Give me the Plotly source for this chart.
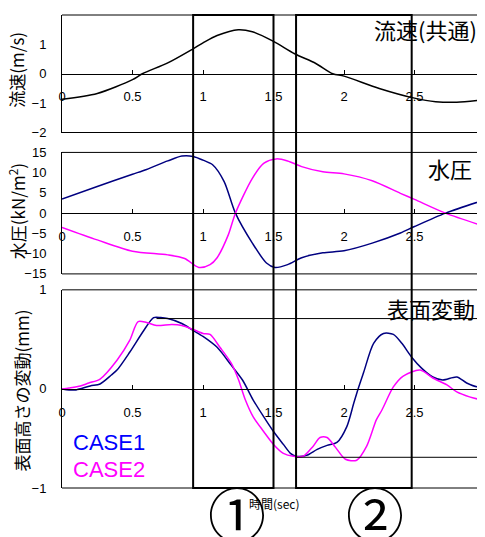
import plotly.graph_objects as go

# page body has an 8px default margin; figure is sized so the plot lands at the target pixels
OFF = 8
W, H = 485 - OFF, 537 - OFF
ML, MR, MT = 62 - OFF, 0, 13 - OFF
MB = H - (488 - OFF)

# ---------------- data ----------------
x_ticks = [0, 0.5, 1, 1.5, 2, 2.5, 3]
x_tick_labels = ["0", "0.5", "1", "1.5", "2", "2.5", "3"]

# Panel 1: flow velocity (common)
t_vel = [0, 0.25, 0.5, 0.57, 0.75, 0.93, 1.0, 1.1, 1.25, 1.35, 1.5, 1.65, 1.8, 1.92,
         2.0, 2.25, 2.5, 2.65, 2.8, 3.0]
vel = [-0.87, -0.67, -0.2, 0.0, 0.37, 0.85, 1.05, 1.3, 1.5, 1.43, 1.1, 0.68, 0.35, 0.0,
       -0.08, -0.5, -0.83, -0.95, -0.97, -0.88]

# Panel 2: water pressure
t_p1 = [0, 0.25, 0.5, 0.6, 0.75, 0.85, 0.93, 1.0, 1.07, 1.15, 1.23, 1.35, 1.45, 1.51,
        1.6, 1.7, 1.85, 2.0, 2.2, 2.4, 2.5, 2.72, 3.0]
p1 = [3.5, 6.6, 9.6, 10.8, 12.9, 14.1, 14.0, 13.1, 11.9, 7.8, 0.0, -7.4, -12.3, -13.4,
      -12.7, -11.0, -9.8, -9.3, -7.4, -4.9, -3.3, 0.0, 3.3]
t_p2 = [0, 0.25, 0.5, 0.75, 0.87, 0.97, 1.05, 1.1, 1.18, 1.23, 1.35, 1.43, 1.52, 1.6,
        1.7, 1.85, 2.0, 2.2, 2.4, 2.5, 2.72, 3.0]
p2 = [-3.5, -6.6, -9.4, -10.3, -11.2, -13.4, -12.7, -11.0, -5.3, 0.0, 8.6, 12.3, 13.4,
      12.9, 11.5, 10.2, 9.7, 8.0, 4.9, 3.4, 0.0, -3.3]

# Panel 3: surface displacement
t_s1 = [0, 0.05, 0.1, 0.2, 0.27, 0.35, 0.39, 0.48, 0.58, 0.65, 0.7, 0.75, 0.85, 0.93,
        1.0, 1.1, 1.2, 1.28, 1.355, 1.43, 1.5, 1.57, 1.62, 1.66, 1.735, 1.81, 1.88,
        1.95, 2.02, 2.07, 2.1, 2.14, 2.21, 2.28, 2.35, 2.41, 2.48, 2.55, 2.63, 2.7,
        2.8, 2.87, 2.95, 3.0]
s1 = [0.0, -0.01, -0.01, 0.03, 0.05, 0.14, 0.19, 0.37, 0.59, 0.72, 0.72, 0.71, 0.66,
      0.59, 0.53, 0.42, 0.24, 0.09, -0.11, -0.28, -0.43, -0.56, -0.65, -0.68, -0.67,
      -0.61, -0.57, -0.54, -0.38, -0.14, 0.0, 0.17, 0.46, 0.56, 0.55, 0.46, 0.32, 0.21,
      0.12, 0.09, 0.12, 0.06, 0.02, 0.04]
t_s2 = [0, 0.05, 0.13, 0.19, 0.27, 0.39, 0.48, 0.54, 0.6, 0.67, 0.78, 0.85, 0.93, 1.0,
        1.05, 1.12, 1.2, 1.25, 1.3, 1.355, 1.43, 1.5, 1.57, 1.64, 1.71, 1.78, 1.83,
        1.88, 1.94, 2.01, 2.09, 2.16, 2.23, 2.27, 2.35, 2.42, 2.54, 2.63, 2.73, 2.8,
        2.89, 3.0]
s2 = [0.0, 0.01, 0.03, 0.06, 0.1, 0.29, 0.49, 0.68, 0.67, 0.64, 0.65, 0.64, 0.6, 0.56,
      0.55, 0.42, 0.26, 0.1, -0.11, -0.28, -0.43, -0.56, -0.65, -0.68, -0.68, -0.58,
      -0.49, -0.49, -0.59, -0.71, -0.72, -0.58, -0.31, -0.21, 0.02, 0.13, 0.19, 0.11,
      0.04, -0.03, -0.08, -0.12]

# highlighted time windows and their labels
box_start = [0.93, 1.66]
box_end = [1.5, 2.48]
box_labels = ["①", "②"]
box_label_x = [1.24, 2.22]

# reference levels in surface panel (start time, level)
ref_start = [0.67, 1.665]
ref_level = [0.71, -0.69]

panel_titles = ["流速(共通)", "水圧", "表面変動"]
y_titles = ["流速(m/s)", "水圧(kN/m<sup>2</sup>)", "表面高さの変動(mm)"]
y_ranges = [[-2, 2], [-15, 15], [-1, 1]]
y_dticks = [1, 5, 1]
case_names = ["CASE1", "CASE2"]
line_colors = ["#000080", "#FF00FF"]
label_colors = ["#0000FF", "#FF00FF"]

# ---------------- layout helpers (page pixel -> paper) ----------------
PW = W - ML - MR
PH = H - MT - MB


def py2paper(py):
    return (H - MB - (py - OFF)) / PH


def px2paper(px):
    return ((px - OFF) - ML) / PW


domains = [
    [py2paper(131), 1.0],
    [py2paper(273), py2paper(151)],
    [0.0, py2paper(289)],
]

JP = "Noto Sans CJK JP"
NUM = "Liberation Sans"

fig = go.Figure()

series = [
    (t_vel, vel, "x", "y", "black"),
    (t_p1, p1, "x2", "y2", line_colors[0]),
    (t_p2, p2, "x2", "y2", line_colors[1]),
    (t_s1, s1, "x3", "y3", line_colors[0]),
    (t_s2, s2, "x3", "y3", line_colors[1]),
]
for xs, ys, xa, ya, col in series:
    fig.add_trace(go.Scatter(x=xs, y=ys, mode="lines", xaxis=xa, yaxis=ya,
                             line=dict(color=col, width=1.5, shape="spline", smoothing=0.8),
                             showlegend=False, hoverinfo="skip"))

layout = dict(
    width=W, height=H,
    margin=dict(l=ML, r=MR, t=MT, b=MB, pad=0),
    paper_bgcolor="white", plot_bgcolor="white",
    showlegend=False,
)

for i in range(3):
    sx = "" if i == 0 else str(i + 1)
    r0, r1 = y_ranges[i]
    d0, d1 = domains[i]
    zero_pos = d0 + (d1 - d0) * (0 - r0) / (r1 - r0)
    layout["xaxis" + sx] = dict(
        domain=[0, 1], range=[0, 3], anchor="free", position=zero_pos,
        showline=True, linecolor="black", linewidth=1,
        ticks="inside", ticklen=4, tickcolor="black", tickwidth=1,
        tickvals=x_ticks, ticktext=x_tick_labels,
        tickfont=dict(family=NUM, size=13, color="black"),
        ticklabelstandoff=11,
        showgrid=False, zeroline=False,
    )
    layout["yaxis" + sx] = dict(
        domain=domains[i], range=y_ranges[i], anchor="x" + sx,
        dtick=y_dticks[i], tick0=0,
        showline=True, linecolor="black", linewidth=1,
        ticks="", tickfont=dict(family=NUM, size=13, color="black"),
        ticklabelstandoff=12,
        showgrid=False, zeroline=False,
    )

shapes = []
# panel frames (top and bottom edges)
for i in range(3):
    sx = "" if i == 0 else str(i + 1)
    for yy in (0, 1):
        shapes.append(dict(type="line", xref="x" + sx + " domain", yref="y" + sx + " domain",
                           x0=0, x1=1, y0=yy, y1=yy, line=dict(color="black", width=1)))
# reference levels in surface panel
for xs, lv in zip(ref_start, ref_level):
    shapes.append(dict(type="line", xref="x3", yref="y3", x0=xs, x1=3, y0=lv, y1=lv,
                       line=dict(color="black", width=1)))
# highlighted windows
for b0, b1 in zip(box_start, box_end):
    shapes.append(dict(type="rect", xref="x", yref="paper", x0=b0, x1=b1, y0=0, y1=1,
                       line=dict(color="black", width=2), fillcolor="rgba(0,0,0,0)"))
layout["shapes"] = shapes

ann = []
title_pos = [(479, 27), (474, 167), (477, 307)]
for txt, (px, py) in zip(panel_titles, title_pos):
    ann.append(dict(text=txt, xref="paper", yref="paper", x=px2paper(px), y=py2paper(py),
                    xanchor="right", yanchor="middle", showarrow=False,
                    font=dict(family=JP, size=22, color="black")))
ytitle_pos = [(17, 68), (17, 210), (21, 390)]
for txt, (px, py) in zip(y_titles, ytitle_pos):
    ann.append(dict(text=txt, xref="paper", yref="paper", x=px2paper(px), y=py2paper(py),
                    xanchor="center", yanchor="middle", textangle=-90, showarrow=False,
                    font=dict(family=JP, size=17, color="black")))
for txt, col, py in zip(case_names, label_colors, (442, 469)):
    ann.append(dict(text=txt, xref="paper", yref="paper", x=px2paper(71), y=py2paper(py),
                    xanchor="left", yanchor="middle", showarrow=False,
                    font=dict(family=NUM, size=22, color=col)))
for txt, xx in zip(box_labels, box_label_x):
    ann.append(dict(text=txt, xref="x", yref="paper", x=xx, y=py2paper(512),
                    xanchor="center", yanchor="middle", showarrow=False,
                    font=dict(family=JP, size=58, color="black")))
ann.append(dict(text="時間(sec)", xref="paper", yref="paper", x=px2paper(274), y=py2paper(504),
                xanchor="center", yanchor="middle", showarrow=False,
                font=dict(family=JP, size=12, color="black")))
layout["annotations"] = ann

fig.update_layout(**layout)
fig.write_html("out.html")
